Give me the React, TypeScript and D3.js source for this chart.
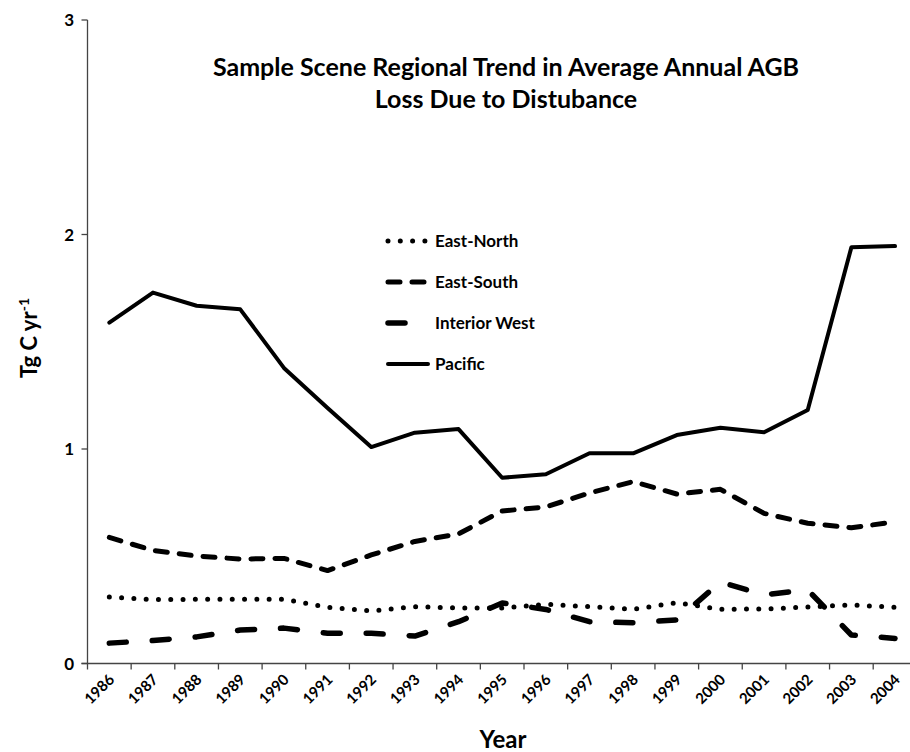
import React from "react";
import * as d3 from "d3";

const years = ["1986","1987","1988","1989","1990","1991","1992","1993","1994","1995","1996","1997","1998","1999","2000","2001","2002","2003","2004"];
const eastNorth = [0.31, 0.298, 0.299, 0.299, 0.3, 0.262, 0.245, 0.265, 0.259, 0.259, 0.276, 0.265, 0.253, 0.283, 0.253, 0.254, 0.263, 0.273, 0.262];
const eastSouth = [0.588, 0.527, 0.501, 0.487, 0.49, 0.433, 0.506, 0.569, 0.604, 0.711, 0.73, 0.795, 0.848, 0.79, 0.812, 0.7, 0.654, 0.633, 0.66];
const interiorWest = [0.095, 0.107, 0.124, 0.156, 0.165, 0.141, 0.141, 0.128, 0.195, 0.282, 0.252, 0.195, 0.19, 0.203, 0.38, 0.32, 0.343, 0.133, 0.117];
const pacific = [1.589, 1.729, 1.668, 1.651, 1.378, 1.191, 1.009, 1.076, 1.093, 0.866, 0.882, 0.98, 0.98, 1.065, 1.099, 1.078, 1.182, 1.94, 1.946];
const yTicks = [0, 1, 2, 3];
const seriesNames = ["East-North", "East-South", "Interior West", "Pacific"];

const W = 910, H = 752;
const FONT = "Lato, 'Open Sans', sans-serif";

const styles = [
  { dash: "0 12.3", width: 5 },
  { dash: "12 12", width: 5 },
  { dash: "17 26", width: 5.5 },
  { dash: "none", width: 4 },
];

export default function App() {
  const x = d3.scaleBand<string>().domain(years).range([87.5, 87.5 + 19 * 43.65]);
  const y = d3.scaleLinear().domain([0, 3]).range([663.5, 20]);
  const cx = (d: string) => (x(d) as number) + x.bandwidth() / 2;
  const line = d3.line<number>().x((_, i) => cx(years[i])).y((v) => y(v));
  const data = [eastNorth, eastSouth, interiorWest, pacific];
  const bounds = [...years.map((d) => x(d) as number), x.range()[1]];

  return (
    <div style={{ position: "absolute", left: 0, top: 0 }}>
      <svg width={W} height={H} style={{ display: "block", background: "#fff" }} fontFamily={FONT}>
        {/* axes */}
        <line x1={87.5} x2={87.5} y1={y(3)} y2={y(0)} stroke="#444" strokeWidth={1.3} />
        {yTicks.map((t) => (
          <g key={t}>
            <line x1={81.5} x2={87.5} y1={y(t)} y2={y(t)} stroke="#444" strokeWidth={1.3} />
            <text x={74} y={y(t) + 6} textAnchor="end" fontSize={17} fontWeight={700}>{t}</text>
          </g>
        ))}
        <line x1={81.5} x2={x.range()[1]} y1={y(0)} y2={y(0)} stroke="#444" strokeWidth={1.3} />
        {bounds.map((b, i) => (
          <line key={i} x1={b} x2={b} y1={y(0)} y2={y(0) + 6} stroke="#444" strokeWidth={1.3} />
        ))}
        {years.map((d) => (
          <text key={d} transform={`translate(${cx(d) + 6},${y(0) + 17}) rotate(-45)`} textAnchor="end" fontSize={15} fontWeight={700}>{d}</text>
        ))}
        {/* series */}
        {data.map((s, i) => (
          <path key={i} d={line(s) || ""} fill="none" stroke="#000" strokeWidth={styles[i].width}
            strokeDasharray={styles[i].dash} strokeLinecap="round" strokeLinejoin="round" />
        ))}
        {/* legend */}
        {seriesNames.map((n, i) => (
          <g key={n}>
            <path d={`M${388},${241 + i * 41}L${428},${241 + i * 41}`} stroke="#000" strokeWidth={styles[i].width}
              strokeDasharray={styles[i].dash} strokeLinecap="round" fill="none" />
            <text x={435} y={247 + i * 41} fontSize={17} fontWeight={700}>{n}</text>
          </g>
        ))}
        {/* title */}
        <text x={506} y={76} textAnchor="middle" fontSize={25} fontWeight={700}>Sample Scene Regional Trend in Average Annual AGB</text>
        <text x={506} y={108} textAnchor="middle" fontSize={25} fontWeight={700}>Loss Due to Distubance</text>
        {/* axis titles */}
        <text x={503} y={748} textAnchor="middle" fontSize={24} fontWeight={700}>Year</text>
        <text transform={`translate(37,${338}) rotate(-90)`} textAnchor="middle" fontSize={22} fontWeight={700}>
          Tg C yr<tspan dy={-8} fontSize={14}>-1</tspan>
        </text>
      </svg>
    </div>
  );
}
